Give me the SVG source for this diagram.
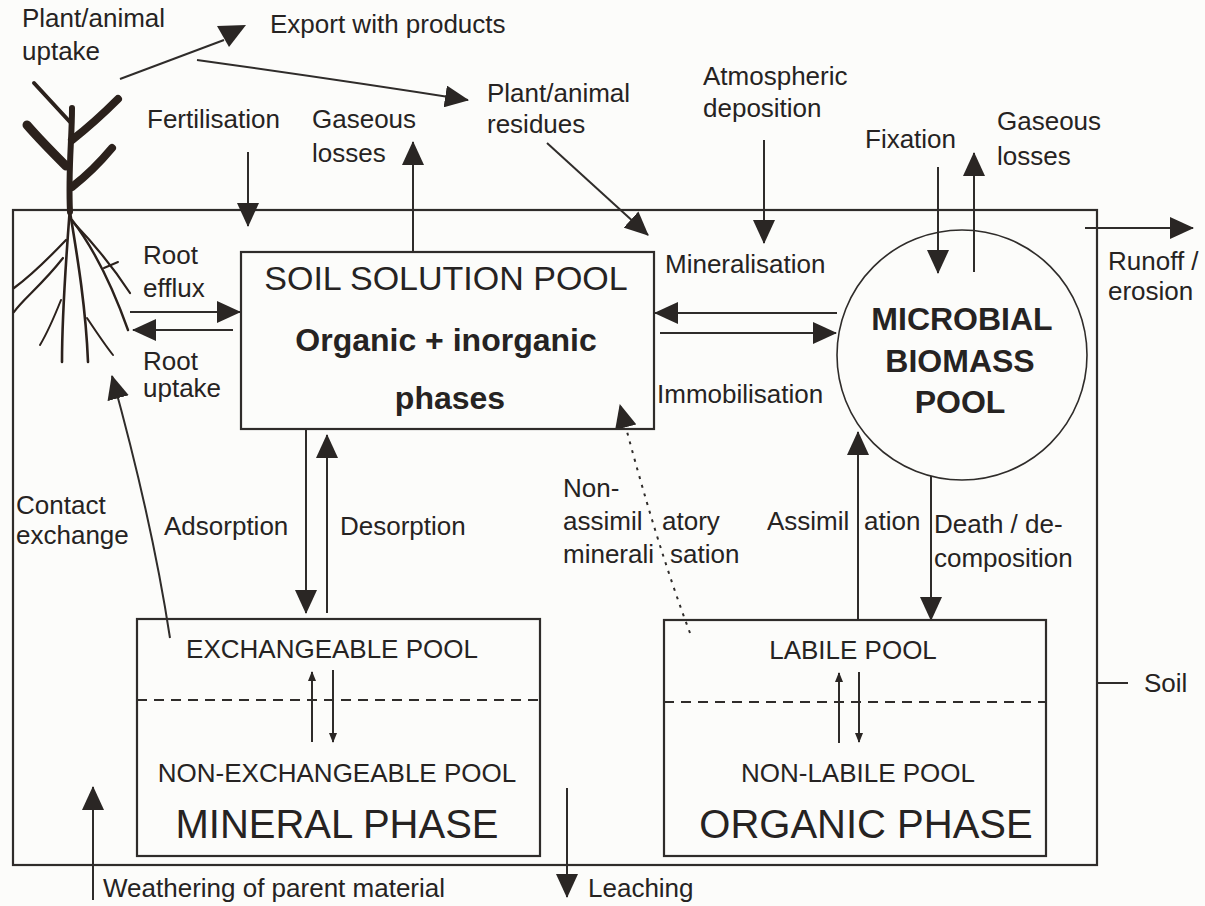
<svg xmlns="http://www.w3.org/2000/svg" width="1205" height="906" viewBox="0 0 1205 906">
  <defs>
    <marker id="ah" viewBox="0 0 24 22" refX="23" refY="11" markerWidth="24" markerHeight="22" markerUnits="userSpaceOnUse" orient="auto">
      <path d="M0,0 L24,11 L0,22 z" fill="#2a2624"/>
    </marker>
    <marker id="ahs" viewBox="0 0 10 8" refX="9" refY="4" markerWidth="10" markerHeight="8" markerUnits="userSpaceOnUse" orient="auto">
      <path d="M0,0 L10,4 L0,8 z" fill="#2a2624"/>
    </marker>
    <style>
      text { font-family: "Liberation Sans", Arial, sans-serif; fill: #262322; }
      .lbl { font-size: 26px; }
      .pool { font-size: 26px; }
      .phase { font-size: 40px; }
      .box { fill: none; stroke: #2f2c2a; stroke-width: 2.2; }
      .dash { stroke: #2f2c2a; stroke-width: 2; stroke-dasharray: 10 7; }
      .arr { fill: none; stroke: #2f2c2a; stroke-width: 2; marker-end: url(#ah); }
      .arrs { fill: none; stroke: #2f2c2a; stroke-width: 2; marker-end: url(#ahs); }
      .plant { fill: none; stroke: #2b211c; stroke-linecap: round; stroke-linejoin: round; }
    </style>
  </defs>

  <rect width="1205" height="906" fill="#fcfcfa"/>

  <!-- soil compartment -->
  <g id="soil">
    <rect class="box" x="13" y="210" width="1084" height="655" stroke-width="2"/>
    <line x1="1097" y1="683" x2="1128" y2="683" stroke="#2f2c2a" stroke-width="2"/>
    <text class="lbl" x="1144" y="692">Soil</text>
  </g>

  <!-- plant: shoot with leaves, root system below the soil line -->
  <g id="plant">
    <path class="plant" d="M70,212 C68,170 72,140 72,108" stroke-width="6"/>
    <path class="plant" d="M34,83 L70,122" stroke-width="4"/>
    <path class="plant" d="M72,140 C90,126 105,112 118,99" stroke-width="8"/>
    <path class="plant" d="M27,125 C40,140 52,152 66,166" stroke-width="9"/>
    <path class="plant" d="M72,187 C90,173 102,160 112,148" stroke-width="8"/>
    <path class="plant" d="M70,207 C66,260 62,310 62,362" stroke-width="2.6"/>
    <path class="plant" d="M70,212 C78,260 86,310 88,362" stroke-width="2.6"/>
    <path class="plant" d="M72,220 C95,250 112,285 128,330" stroke-width="2.4"/>
    <path class="plant" d="M73,222 C95,245 115,270 130,293" stroke-width="2.2"/>
    <path class="plant" d="M66,240 C45,262 25,280 14,288" stroke-width="2.2"/>
    <path class="plant" d="M63,258 C42,285 22,300 14,312" stroke-width="2.2"/>
    <path class="plant" d="M61,300 C53,320 46,335 40,345" stroke-width="2"/>
    <path class="plant" d="M87,318 C97,333 105,345 113,355" stroke-width="2"/>
    <path class="plant" d="M104,268 L118,262" stroke-width="2"/>
  </g>

  <!-- connectors -->
  <g id="connectors">
    <line class="arr" x1="248" y1="152" x2="248" y2="226"/>
    <line class="arr" x1="413" y1="252" x2="413" y2="142"/>
    <line class="arr" x1="547" y1="143" x2="648" y2="235"/>
    <line class="arr" x1="764" y1="140" x2="764" y2="243"/>
    <line class="arr" x1="938" y1="167" x2="938" y2="273"/>
    <line class="arr" x1="974" y1="272" x2="974" y2="153"/>
    <line class="arr" x1="1085" y1="228" x2="1193" y2="228"/>
    <line x1="120" y1="79" x2="224" y2="40" stroke="#2f2c2a" stroke-width="2"/>
    <polygon points="217,26 246,25 229,47" fill="#2a2624"/>
    <path class="arr" d="M197,60 Q340,80 468,100"/>
    <line class="arr" x1="130" y1="312" x2="240" y2="312"/>
    <line class="arr" x1="233" y1="330" x2="133" y2="330"/>
    <line class="arr" x1="837" y1="313" x2="655" y2="313"/>
    <line class="arr" x1="660" y1="333" x2="836" y2="333"/>
    <line class="arr" x1="306" y1="429" x2="306" y2="613"/>
    <line class="arr" x1="327" y1="613" x2="327" y2="435"/>
    <line class="arr" x1="858" y1="620" x2="858" y2="432"/>
    <line class="arr" x1="931" y1="476" x2="931" y2="620"/>
    <path class="arr" d="M690,633 Q655,540 620,405" stroke-dasharray="3 6" stroke-width="2.4"/>
    <path class="arr" d="M170,638 Q152,520 112,376" stroke-width="1.8"/>
    <line class="arr" x1="93" y1="900" x2="93" y2="787"/>
    <line class="arr" x1="567" y1="788" x2="567" y2="897"/>
    <line class="arrs" x1="312" y1="742" x2="312" y2="672"/>
    <line class="arrs" x1="333" y1="670" x2="333" y2="742"/>
    <line class="arrs" x1="839" y1="743" x2="839" y2="673"/>
    <line class="arrs" x1="859" y1="672" x2="859" y2="742"/>
  </g>

  <!-- flow labels -->
  <g id="labels">
    <text class="lbl" x="22" y="27">Plant/animal</text>
    <text class="lbl" x="22" y="60">uptake</text>
    <text class="lbl" x="270" y="33">Export with products</text>
    <text class="lbl" x="487" y="102">Plant/animal</text>
    <text class="lbl" x="487" y="133">residues</text>
    <text class="lbl" x="703" y="85">Atmospheric</text>
    <text class="lbl" x="703" y="117">deposition</text>
    <text class="lbl" x="147" y="128">Fertilisation</text>
    <text class="lbl" x="312" y="128">Gaseous</text>
    <text class="lbl" x="312" y="162">losses</text>
    <text class="lbl" x="865" y="148">Fixation</text>
    <text class="lbl" x="997" y="130">Gaseous</text>
    <text class="lbl" x="997" y="165">losses</text>
    <text class="lbl" x="1108" y="270">Runoff /</text>
    <text class="lbl" x="1108" y="300">erosion</text>
    <text class="lbl" x="143" y="264">Root</text>
    <text class="lbl" x="143" y="297">efflux</text>
    <text class="lbl" x="143" y="370">Root</text>
    <text class="lbl" x="143" y="397">uptake</text>
    <text class="lbl" x="665" y="273">Mineralisation</text>
    <text class="lbl" x="657" y="403">Immobilisation</text>
    <text class="lbl" x="16" y="514" font-size="25">Contact</text>
    <text class="lbl" x="16" y="544" font-size="25">exchange</text>
    <text class="lbl" x="164" y="535">Adsorption</text>
    <text class="lbl" x="340" y="535">Desorption</text>
    <text class="lbl" x="563" y="497">Non-</text>
    <text class="lbl" x="563" y="530">assimil<tspan x="662">atory</tspan></text>
    <text class="lbl" x="563" y="563">minerali<tspan x="670">sation</tspan></text>
    <text class="lbl" x="767" y="530">Assimil<tspan x="864">ation</tspan></text>
    <text class="lbl" x="934" y="533">Death / de-</text>
    <text class="lbl" x="934" y="567">composition</text>
    <text class="lbl" x="103" y="897">Weathering of parent material</text>
    <text class="lbl" x="588" y="897">Leaching</text>
  </g>

  <!-- soil solution pool -->
  <g id="soil-solution-pool">
    <rect class="box" x="241" y="252" width="413" height="177"/>
    <text x="446" y="290" font-size="34" text-anchor="middle">SOIL SOLUTION POOL</text>
    <text x="446" y="351" font-size="32" font-weight="bold" text-anchor="middle">Organic + inorganic</text>
    <text x="450" y="409" font-size="32" font-weight="bold" text-anchor="middle">phases</text>
  </g>

  <!-- microbial biomass pool -->
  <g id="microbial-biomass-pool">
    <circle cx="962" cy="355" r="125" fill="none" stroke="#2f2c2a" stroke-width="1.6"/>
    <text x="962" y="330" font-size="32" font-weight="bold" text-anchor="middle">MICROBIAL</text>
    <text x="960" y="372" font-size="32" font-weight="bold" text-anchor="middle">BIOMASS</text>
    <text x="960" y="413" font-size="32" font-weight="bold" text-anchor="middle">POOL</text>
  </g>

  <!-- mineral phase -->
  <g id="mineral-phase">
    <rect class="box" x="137" y="619" width="403" height="237"/>
    <line class="dash" x1="137" y1="700" x2="540" y2="700"/>
    <text class="pool" x="332" y="658" text-anchor="middle">EXCHANGEABLE POOL</text>
    <text class="pool" x="337" y="782" text-anchor="middle">NON-EXCHANGEABLE POOL</text>
    <text class="phase" x="337" y="838" text-anchor="middle">MINERAL PHASE</text>
  </g>

  <!-- organic phase -->
  <g id="organic-phase">
    <rect class="box" x="664" y="620" width="382" height="236"/>
    <line class="dash" x1="664" y1="702" x2="1046" y2="702"/>
    <text class="pool" x="853" y="659" text-anchor="middle">LABILE POOL</text>
    <text class="pool" x="858" y="782" text-anchor="middle">NON-LABILE POOL</text>
    <text class="phase" x="866" y="838" text-anchor="middle">ORGANIC PHASE</text>
  </g>
</svg>
